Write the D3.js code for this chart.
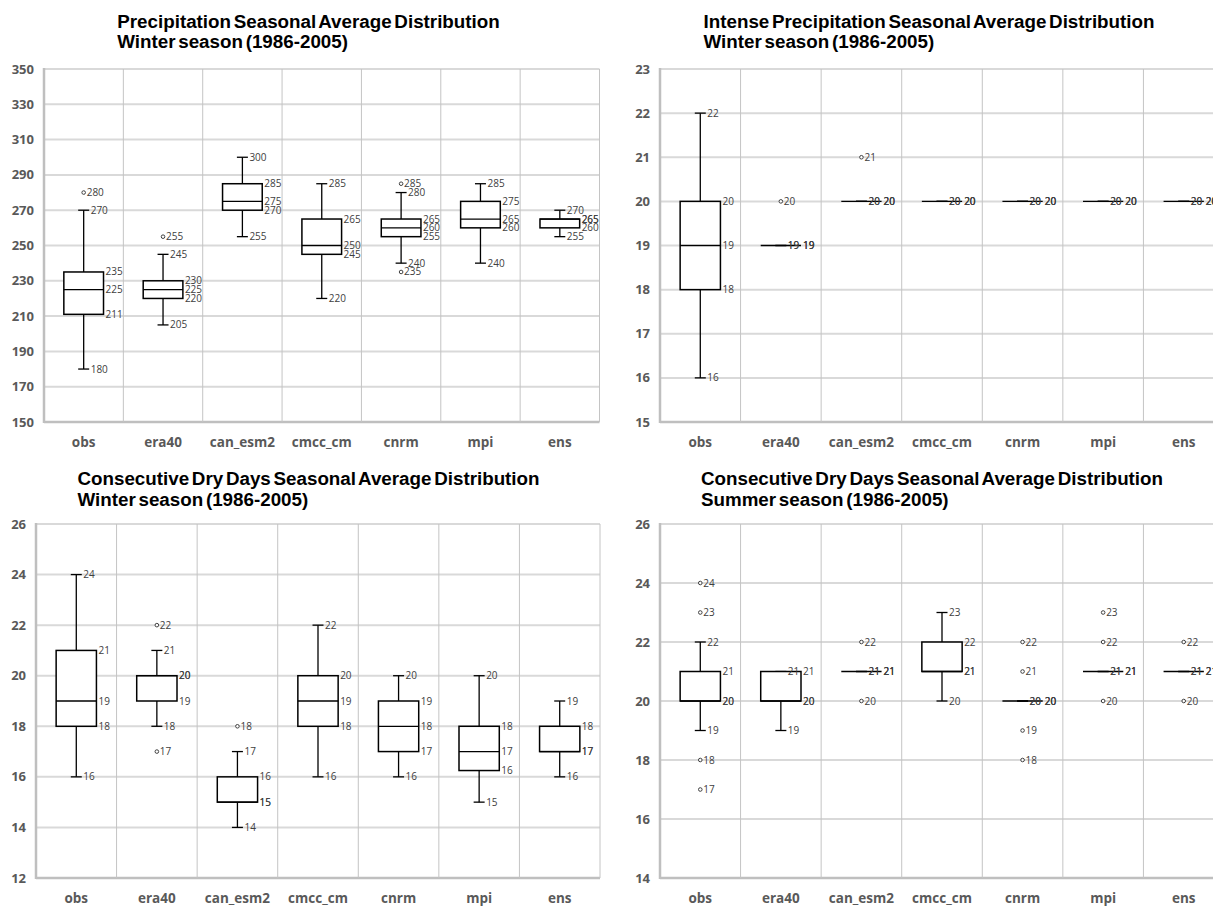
<!DOCTYPE html>
<html lang="en">
<head>
<meta charset="utf-8">
<title>Seasonal Average Distribution</title>
<style>
  body { margin: 0; background: #fff; }
  svg { display: block; }
  .title { font-family: "Liberation Sans", Arial, sans-serif; font-weight: bold; font-size: 18.8px; word-spacing: -2.5px; fill: #000; }
  .ytick { font-family: "Open Sans", sans-serif; font-weight: bold; font-size: 13px; fill: #595959; }
  .xtick { font-family: "Open Sans", sans-serif; font-weight: bold; font-size: 13.5px; fill: #595959; }
  .hgrid { stroke: #d9d9d9; stroke-width: 2px; }
  .vgrid { stroke: #c4c4c4; stroke-width: 1px; }
  .axisline { stroke: #bfbfbf; stroke-width: 2.5px; }
  .box { fill: #fff; stroke: #000; stroke-width: 1.5px; }
  .whisk { stroke: #000; stroke-width: 1.3px; }
  .lbl { font-family: "Open Sans", sans-serif; font-size: 10px; fill: #404040; }
  .outlier { fill: #fff; stroke: #404040; stroke-width: 1px; }
</style>
</head>
<body>
<svg width="1213" height="906"></svg>
<script src="https://d3js.org/d3.v7.min.js"></script>
<script>

var categories = ["obs", "era40", "can_esm2", "cmcc_cm", "cnrm", "mpi", "ens"];

// each row: [min, q1, median, q3, max]
var precipTitle = ["Precipitation Seasonal Average Distribution", "Winter season (1986-2005)"];
var precipTicks = [150, 170, 190, 210, 230, 250, 270, 290, 310, 330, 350];
var precipStats = [
  [180, 211, 225, 235, 270],
  [205, 220, 225, 230, 245],
  [255, 270, 275, 285, 300],
  [220, 245, 250, 265, 285],
  [240, 255, 260, 265, 280],
  [240, 260, 265, 275, 285],
  [255, 260, 265, 265, 270]
];
var precipOutliers = [[280], [255], [], [], [285, 235], [], []];

var intenseTitle = ["Intense Precipitation Seasonal Average Distribution", "Winter season (1986-2005)"];
var intenseTicks = [15, 16, 17, 18, 19, 20, 21, 22, 23];
var intenseStats = [
  [16, 18, 19, 20, 22],
  [19, 19, 19, 19, 19],
  [20, 20, 20, 20, 20],
  [20, 20, 20, 20, 20],
  [20, 20, 20, 20, 20],
  [20, 20, 20, 20, 20],
  [20, 20, 20, 20, 20]
];
var intenseOutliers = [[], [20], [21], [], [], [], []];

var cddWinterTitle = ["Consecutive Dry Days Seasonal Average Distribution", "Winter season (1986-2005)"];
var cddWinterTicks = [12, 14, 16, 18, 20, 22, 24, 26];
var cddWinterStats = [
  [16, 18, 19, 21, 24],
  [18, 19, 20, 20, 21],
  [14, 15, 15, 16, 17],
  [16, 18, 19, 20, 22],
  [16, 17, 18, 19, 20],
  [15, 16.25, 17, 18, 20],
  [16, 17, 17, 18, 19]
];
var cddWinterOutliers = [[], [22, 17], [18], [], [], [], []];

var cddSummerTitle = ["Consecutive Dry Days Seasonal Average Distribution", "Summer season (1986-2005)"];
var cddSummerTicks = [14, 16, 18, 20, 22, 24, 26];
var cddSummerStats = [
  [19, 20, 20, 21, 22],
  [19, 20, 20, 21, 21],
  [21, 21, 21, 21, 21],
  [20, 21, 21, 22, 23],
  [20, 20, 20, 20, 20],
  [21, 21, 21, 21, 21],
  [21, 21, 21, 21, 21]
];
var cddSummerOutliers = [[24, 23, 18, 17], [], [22, 20], [], [22, 21, 19, 18], [23, 22, 20], [22, 20]];

var panels = [
  {title: precipTitle, ticks: precipTicks, stats: precipStats, outliers: precipOutliers,
   left: 44, right: 599.5, top: 69, bottom: 422, titleX: 308.5, titleY: 27.5},
  {title: intenseTitle, ticks: intenseTicks, stats: intenseStats, outliers: intenseOutliers,
   left: 660, right: 1224, top: 69, bottom: 422, titleX: 929, titleY: 27.5},
  {title: cddWinterTitle, ticks: cddWinterTicks, stats: cddWinterStats, outliers: cddWinterOutliers,
   left: 36, right: 600, top: 524, bottom: 878, titleX: 308.5, titleY: 485},
  {title: cddSummerTitle, ticks: cddSummerTicks, stats: cddSummerStats, outliers: cddSummerOutliers,
   left: 660, right: 1224, top: 524, bottom: 878, titleX: 932, titleY: 485}
];

var svg = d3.select("svg");
var fmt = d3.format("d");

panels.forEach(function(p) {
  var g = svg.append("g");

  var x = d3.scaleBand().domain(categories).range([p.left, p.right]).padding(0);
  var y = d3.scaleLinear().domain(d3.extent(p.ticks)).range([p.bottom, p.top]);
  var bw = x.bandwidth();

  // title, block left-aligned and centred on titleX
  var t = g.append("text").attr("class", "title").attr("y", p.titleY);
  var lines = p.title.map(function(s, i) {
    return t.append("tspan").attr("y", p.titleY + i * 20.5).text(s);
  });
  var w = d3.max(lines, function(l) { return l.node().getComputedTextLength(); });
  lines.forEach(function(l) { l.attr("x", p.titleX - w / 2); });

  // horizontal grid + y labels
  g.selectAll("line.hgrid").data(p.ticks).enter().append("line")
    .attr("class", function(d, i) { return i == 0 ? "axisline" : "hgrid"; })
    .attr("x1", p.left).attr("x2", p.right)
    .attr("y1", function(d) { return y(d); }).attr("y2", function(d) { return y(d); });

  g.selectAll("text.ytick").data(p.ticks).enter().append("text")
    .attr("class", "ytick")
    .attr("x", p.left - 10)
    .attr("y", function(d) { return y(d); })
    .attr("dy", "0.35em")
    .attr("text-anchor", "end")
    .text(function(d) { return d; });

  // vertical category separators
  g.selectAll("line.vgrid").data(categories).enter().append("line")
    .attr("class", "vgrid")
    .attr("x1", function(d) { return x(d) + bw; }).attr("x2", function(d) { return x(d) + bw; })
    .attr("y1", p.top).attr("y2", p.bottom);

  g.append("line").attr("class", "axisline")
    .attr("x1", p.left).attr("x2", p.left).attr("y1", p.top - 1).attr("y2", p.bottom + 1);

  g.selectAll("text.xtick").data(categories).enter().append("text")
    .attr("class", "xtick")
    .attr("x", function(d) { return x(d) + bw / 2; })
    .attr("y", p.bottom + 20)
    .attr("dy", "0.35em")
    .attr("text-anchor", "middle")
    .text(function(d) { return d; });

  // boxes
  categories.forEach(function(c, i) {
    var s = p.stats[i];
    var cx = x(c) + bw / 2;
    var half = bw / 4;
    var bg = g.append("g");

    bg.append("line").attr("class", "whisk")
      .attr("x1", cx).attr("x2", cx).attr("y1", y(s[0])).attr("y2", y(s[1]));
    bg.append("line").attr("class", "whisk")
      .attr("x1", cx).attr("x2", cx).attr("y1", y(s[3])).attr("y2", y(s[4]));
    [s[0], s[4]].forEach(function(v) {
      bg.append("line").attr("class", "whisk")
        .attr("x1", cx - 5.5).attr("x2", cx + 5.5).attr("y1", y(v)).attr("y2", y(v));
    });

    bg.append("rect").attr("class", "box")
      .attr("x", cx - half).attr("width", half * 2)
      .attr("y", y(s[3])).attr("height", y(s[1]) - y(s[3]));
    bg.append("line").attr("class", "whisk")
      .attr("x1", cx - half).attr("x2", cx + half).attr("y1", y(s[2])).attr("y2", y(s[2]));

    [s[4], s[0]].forEach(function(v) {
      bg.append("text").attr("class", "lbl")
        .attr("x", cx + 7).attr("y", y(v)).attr("dy", "0.35em").text(fmt(v));
    });
    [s[3], s[2], s[1]].forEach(function(v) {
      bg.append("text").attr("class", "lbl")
        .attr("x", cx + half + 2).attr("y", y(v)).attr("dy", "0.35em").text(fmt(v));
    });

    p.outliers[i].forEach(function(v) {
      bg.append("circle").attr("class", "outlier")
        .attr("cx", cx).attr("cy", y(v)).attr("r", 1.8);
      bg.append("text").attr("class", "lbl")
        .attr("x", cx + 3).attr("y", y(v)).attr("dy", "0.35em").text(fmt(v));
    });
  });
});

</script>
</body>
</html>
